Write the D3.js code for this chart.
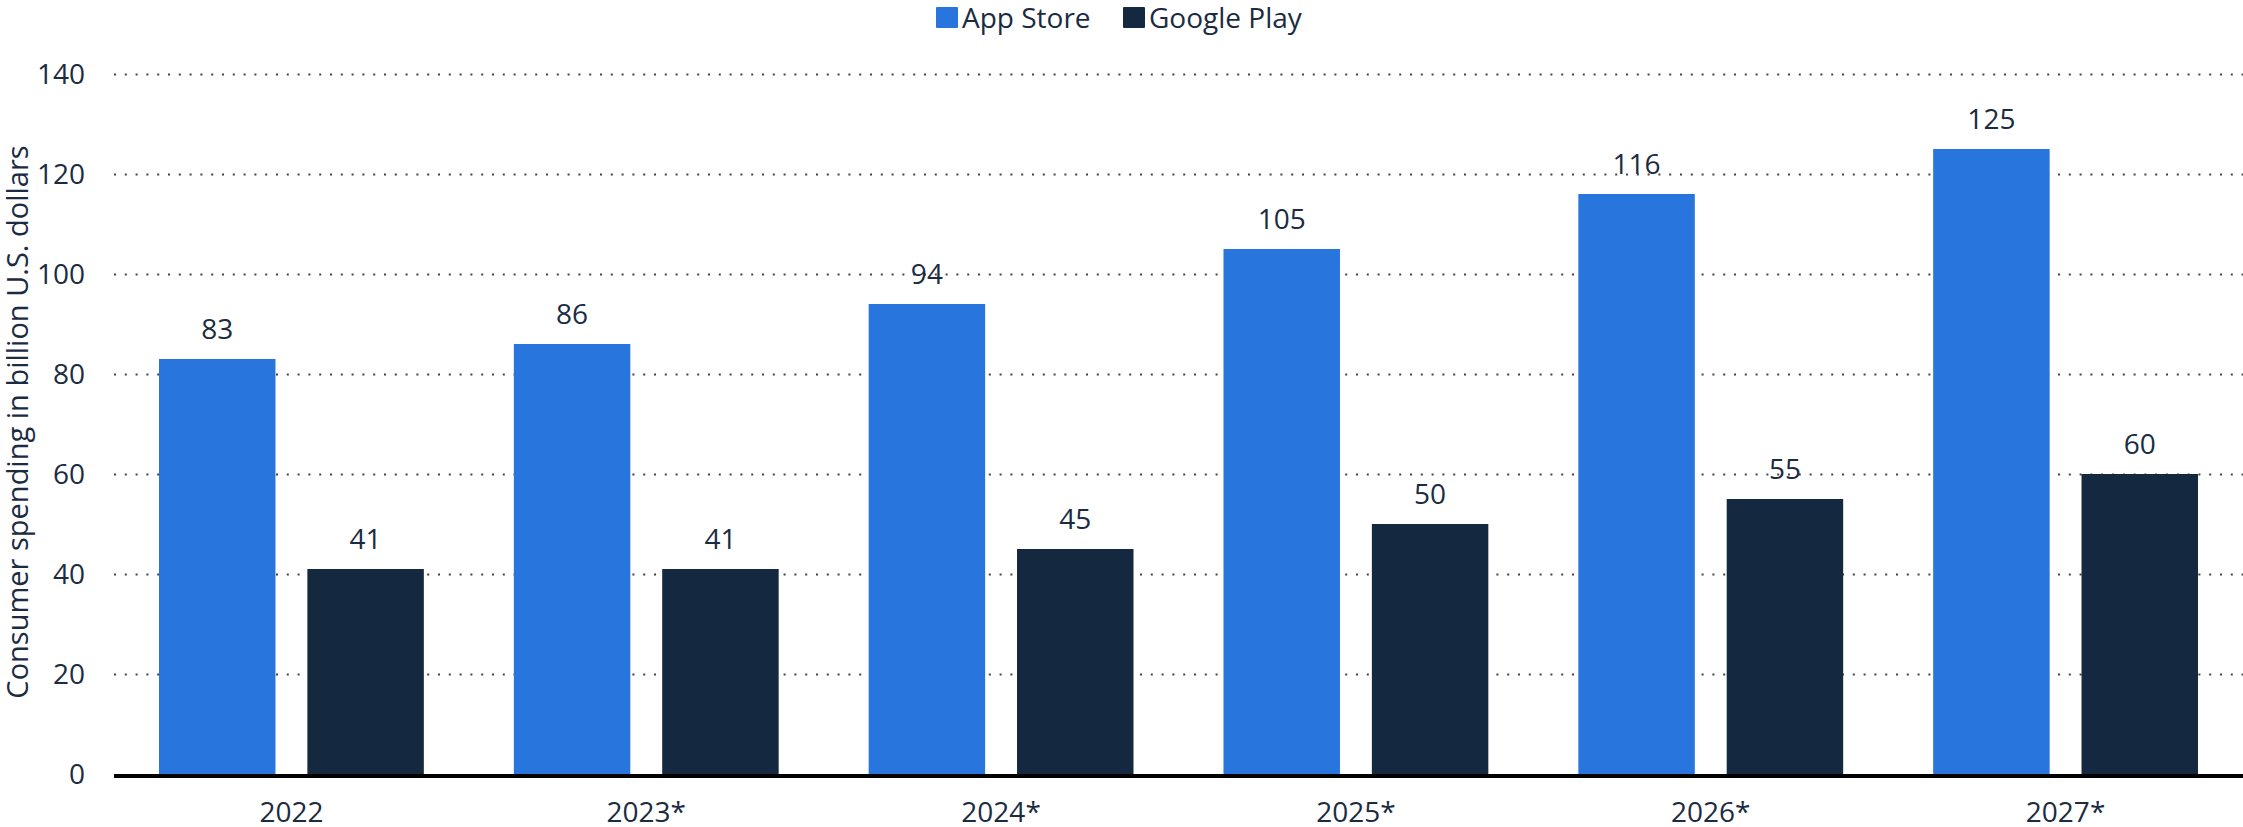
<!doctype html>
<html>
<head>
<script src="https://d3js.org/d3.v7.min.js"></script>
<style>
  body { margin: 0; background: #fff; }
  text { font-family: "Open Sans", sans-serif; fill: #1b2c42; }
</style>
</head>
<body>
<div id="chart"></div>
<script>
const years = ["2022", "2023*", "2024*", "2025*", "2026*", "2027*"];
const appStore = [83, 86, 94, 105, 116, 125];
const googlePlay = [41, 41, 45, 50, 55, 60];
const seriesNames = ["App Store", "Google Play"];
const seriesColors = ["#2876dd", "#14283f"];
const yTicks = [0, 20, 40, 60, 80, 100, 120, 140];

const width = 2243, height = 827;
const plotLeft = 114, plotRight = 2243, plotTop = 74, plotBottom = 774;

const svg = d3.select("#chart").append("svg")
    .attr("width", width)
    .attr("height", height);

const x = d3.scaleBand().domain(years).range([plotLeft, plotRight]).paddingInner(0).paddingOuter(0);
const inner = d3.scaleBand().domain(seriesNames).range([45, x.bandwidth() - 45]).paddingInner(0.215);
const y = d3.scaleLinear().domain([0, 140]).range([plotBottom, plotTop]);

// grid lines
svg.append("g").selectAll("line")
    .data(yTicks.filter(d => d > 0))
    .enter().append("line")
    .attr("x1", plotLeft)
    .attr("x2", plotRight)
    .attr("y1", d => y(d) + 0.5)
    .attr("y2", d => y(d) + 0.5)
    .attr("stroke", "#444")
    .attr("stroke-width", 2)
    .attr("stroke-dasharray", "2,8.8");

// y tick labels
svg.append("g").selectAll("text")
    .data(yTicks)
    .enter().append("text")
    .attr("x", 85)
    .attr("y", d => y(d))
    .attr("dy", "0.36em")
    .attr("text-anchor", "end")
    .style("font-size", "28px")
    .text(d => d);

// y axis title
svg.append("text")
    .attr("transform", "translate(28,422) rotate(-90)")
    .attr("text-anchor", "middle")
    .style("font-size", "29px")
    .text("Consumer spending in billion U.S. dollars");

const rows = years.map((yr, i) => ({ year: yr, values: [appStore[i], googlePlay[i]] }));

const groups = svg.append("g").selectAll("g")
    .data(rows)
    .enter().append("g")
    .attr("transform", d => "translate(" + x(d.year) + ",0)");

groups.selectAll("rect")
    .data(d => d.values.map((v, j) => ({ name: seriesNames[j], value: v, color: seriesColors[j] })))
    .enter().append("rect")
    .attr("x", d => inner(d.name))
    .attr("width", inner.bandwidth())
    .attr("y", d => y(d.value))
    .attr("height", d => y(0) - y(d.value))
    .attr("fill", d => d.color);

groups.selectAll("text.val")
    .data(d => d.values.map((v, j) => ({ name: seriesNames[j], value: v })))
    .enter().append("text")
    .attr("class", "val")
    .attr("x", d => inner(d.name) + inner.bandwidth() / 2)
    .attr("y", d => y(d.value) - 20)
    .attr("text-anchor", "middle")
    .style("font-size", "28px")
    .text(d => d.value);

// x axis baseline
svg.append("line")
    .attr("x1", plotLeft)
    .attr("x2", plotRight)
    .attr("y1", plotBottom + 2)
    .attr("y2", plotBottom + 2)
    .attr("stroke", "#000")
    .attr("stroke-width", 4);

// x labels
svg.append("g").selectAll("text")
    .data(years)
    .enter().append("text")
    .attr("x", d => x(d) + x.bandwidth() / 2)
    .attr("y", 822)
    .attr("text-anchor", "middle")
    .style("font-size", "28px")
    .text(d => d);

// legend
const legendX = [936, 1123];
const legend = svg.append("g").selectAll("g")
    .data(seriesNames)
    .enter().append("g")
    .attr("transform", (d, i) => "translate(" + legendX[i] + ",0)");

legend.append("rect")
    .attr("x", 0)
    .attr("y", 7)
    .attr("width", 22)
    .attr("height", 21)
    .attr("rx", 1)
    .attr("fill", (d, i) => seriesColors[i]);

legend.append("text")
    .attr("x", 26)
    .attr("y", 28)
    .style("font-size", "28px")
    .text(d => d);
</script>
</body>
</html>
